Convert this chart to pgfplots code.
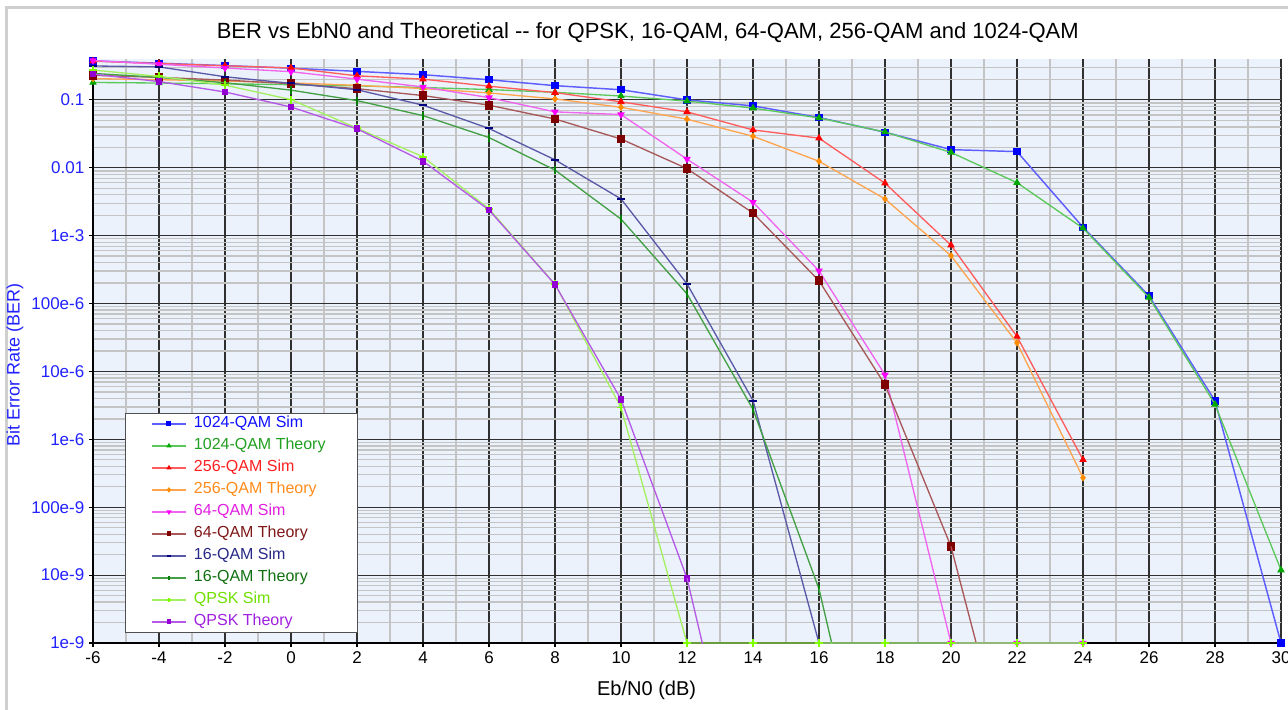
\documentclass[border=0pt]{standalone}
\usepackage{fontspec}
\setmainfont{Liberation Sans}
\usepackage{pgfplots}
\pgfplotsset{compat=1.18}
\definecolor{bgblue}{HTML}{ECF2FC}
\definecolor{majgrid}{HTML}{303030}
\definecolor{mingrid}{HTML}{C4C4C4}
\definecolor{tickblue}{HTML}{2222FF}
\definecolor{framegray}{HTML}{CFCFCF}
\definecolor{leggray}{HTML}{505050}
\definecolor{cAs}{HTML}{0000FF}\definecolor{cAsl}{HTML}{5E5EFF}\definecolor{cAtx}{HTML}{1010FF}
\definecolor{cAt}{HTML}{00A800}\definecolor{cAtl}{HTML}{5CC85C}\definecolor{cAttx}{HTML}{20A020}
\definecolor{cBs}{HTML}{FF0000}\definecolor{cBsl}{HTML}{FF5C5C}\definecolor{cBtx}{HTML}{FF2020}
\definecolor{cBt}{HTML}{FF8C00}\definecolor{cBtl}{HTML}{FFA54F}\definecolor{cBttx}{HTML}{FF8C1A}
\definecolor{cCs}{HTML}{FF00FF}\definecolor{cCsl}{HTML}{F064F0}\definecolor{cCtx}{HTML}{E020E0}
\definecolor{cCt}{HTML}{800000}\definecolor{cCtl}{HTML}{A85858}\definecolor{cCttx}{HTML}{801818}
\definecolor{cDs}{HTML}{000080}\definecolor{cDsl}{HTML}{5A5AA8}\definecolor{cDtx}{HTML}{282888}
\definecolor{cDt}{HTML}{008000}\definecolor{cDtl}{HTML}{44A044}\definecolor{cDttx}{HTML}{107010}
\definecolor{cEs}{HTML}{7FFF00}\definecolor{cEsl}{HTML}{A4F060}\definecolor{cEtx}{HTML}{70E000}
\definecolor{cEt}{HTML}{9400D3}\definecolor{cEtl}{HTML}{B45AE6}\definecolor{cEttx}{HTML}{A020E0}
\pgfplotsset{
  sAs/.style={color=cAsl, line width=1.1pt, mark=square*, mark size=2.2pt, mark options={solid, fill=cAs, draw=cAs}},
  sAt/.style={color=cAtl, line width=1pt, mark=triangle*, mark size=2.3pt, mark options={solid, fill=cAt, draw=cAt}},
  sBs/.style={color=cBsl, line width=1pt, mark=triangle*, mark size=2.3pt, mark options={solid, fill=cBs, draw=cBs}},
  sBt/.style={color=cBtl, line width=1pt, mark=diamond*, mark size=2pt, mark options={solid, fill=cBt, draw=cBt}},
  sCs/.style={color=cCsl, line width=1pt, mark=triangle*, mark size=2.3pt, mark options={solid, fill=cCs, draw=cCs, rotate=180}},
  sCt/.style={color=cCtl, line width=1pt, mark=square*, mark size=2.8pt, mark options={solid, fill=cCt, draw=cCt}},
  sDs/.style={color=cDsl, line width=1pt, mark=-, mark size=3pt, mark options={solid, draw=cDs, line width=1.5pt}},
  sDt/.style={color=cDtl, line width=1pt, mark=|, mark size=3pt, mark options={solid, draw=cDt, line width=1.5pt}},
  sEs/.style={color=cEsl, line width=1pt, mark=+, mark size=3pt, mark options={solid, draw=cEs, line width=1.3pt}},
  sEt/.style={color=cEtl, line width=1pt, mark=square*, mark size=2pt, mark options={solid, fill=cEt, draw=cEt}},
}
\begin{document}
\begin{tikzpicture}
\useasboundingbox (0pt,0pt) rectangle (966pt,532.5pt);
\fill[white] (0pt,0pt) rectangle (966pt,532.5pt);
\draw[line width=2.2pt, color=framegray] (5.2pt,-5pt) -- (5.2pt,527.2pt) -- (975pt,527.2pt);
\begin{axis}[
  at={(69.75pt,50.25pt)}, anchor=south west,
  width=891pt, height=438pt, scale only axis,
  ymode=log, xmin=-6, xmax=30, ymin=1e-9, ymax=0.4,
  clip mode=individual,
  axis background/.style={fill=bgblue},
  axis x line*=bottom, axis y line*=left,
  axis line style={black, line width=0.9pt},
  xtick={-6,-4,-2,0,2,4,6,8,10,12,14,16,18,20,22,24,26,28,30},
  xticklabels={-6,-4,-2,0,2,4,6,8,10,12,14,16,18,20,22,24,26,28,30},
  minor xtick={-5,-3,-1,1,3,5,7,9,11,13,15,17,19,21,23,25,27,29},
  ytick={1e-9,1e-8,1e-7,1e-6,1e-5,1e-4,1e-3,1e-2,1e-1},
  yticklabels={1e-9,10e-9,100e-9,1e-6,10e-6,100e-6,1e-3,0.01,0.1},
  minor ytick={2e-9,3e-9,4e-9,5e-9,6e-9,7e-9,8e-9,9e-9,
    2e-8,3e-8,4e-8,5e-8,6e-8,7e-8,8e-8,9e-8,
    2e-7,3e-7,4e-7,5e-7,6e-7,7e-7,8e-7,9e-7,
    2e-6,3e-6,4e-6,5e-6,6e-6,7e-6,8e-6,9e-6,
    2e-5,3e-5,4e-5,5e-5,6e-5,7e-5,8e-5,9e-5,
    2e-4,3e-4,4e-4,5e-4,6e-4,7e-4,8e-4,9e-4,
    2e-3,3e-3,4e-3,5e-3,6e-3,7e-3,8e-3,9e-3,
    2e-2,3e-2,4e-2,5e-2,6e-2,7e-2,8e-2,9e-2,
    0.2,0.3},
  grid=both,
  major grid style={majgrid, line width=0.9pt},
  minor grid style={mingrid, line width=1pt},
  tick align=outside, major tick length=3pt, minor tick length=0pt,
  tick style={black, line width=0.8pt},
  xticklabel style={font=\fontsize{12.75}{14}\selectfont, text=black},
  yticklabel style={font=\fontsize{12.75}{14}\selectfont, text=tickblue},
  title={BER vs EbN0 and Theoretical -{}- for QPSK, 16-QAM, 64-QAM, 256-QAM and 1024-QAM},
  title style={at={(axis description cs:0.467,1)}, anchor=base, yshift=9.2pt, font=\fontsize{16.5}{19}\selectfont},
  xlabel={Eb/N0 (dB)},
  xlabel style={at={(axis description cs:0.466,0)}, anchor=base, yshift=-39pt, font=\fontsize{15}{17}\selectfont},
  ylabel={Bit Error Rate (BER)},
  ylabel style={at={(axis description cs:-0.0657,0.476)}, anchor=center, font=\fontsize{13.5}{15}\selectfont, text=tickblue},
  legend cell align=left,
  legend style={at={(axis description cs:0.0269,0.0171)}, anchor=south west,
    draw=leggray, line width=0.9pt, fill=white, font=\fontsize{12}{14}\selectfont,
    inner xsep=19pt, inner ysep=1.9pt, row sep=4.5pt,
    nodes={inner ysep=0pt, inner xsep=5.2pt, text height=9pt, text depth=3pt}},
  legend image code/.code={\draw[mark repeat=2,mark phase=2] plot coordinates {(0pt,0pt)(13pt,0pt)(26pt,0pt)};},
  legend image post style={mark size=1.3pt},
]
\addplot[sAs] coordinates {(-6,0.375)(-4,0.347)(-2,0.32)(0,0.293)(2,0.263)(4,0.235)(6,0.198)(8,0.162)(10,0.141)(12,0.100)(14,0.0816)(16,0.055)(18,0.0334)(20,0.0185)(22,0.0173)(24,1.33e-3)(26,1.30e-4)(28,3.69e-6)(30,1e-9)};
\addlegendentry[text=cAtx]{1024-QAM Sim}
\addplot[sAt] coordinates {(-6,0.1805)(-4,0.1771)(-2,0.1728)(0,0.1674)(2,0.1607)(4,0.1523)(6,0.1419)(8,0.1292)(10,0.1140)(12,0.0960)(14,0.0757)(16,0.0542)(18,0.03367)(20,0.01682)(22,0.00603)(24,1.288e-3)(26,1.229e-4)(28,3.28e-6)(30,1.185e-8)};
\addlegendentry[text=cAttx]{1024-QAM Theory}
\addplot[sBs] coordinates {(-6,0.372)(-4,0.343)(-2,0.318)(0,0.295)(2,0.226)(4,0.202)(6,0.159)(8,0.128)(10,0.0935)(12,0.0666)(14,0.0361)(16,0.0273)(18,0.00593)(20,7.24e-4)(22,3.27e-5)(24,5.0e-7)};
\addlegendentry[text=cBtx]{256-QAM Sim}
\addplot[sBt] coordinates {(-6,0.2057)(-4,0.1984)(-2,0.1892)(0,0.1779)(2,0.1639)(4,0.1469)(6,0.1267)(8,0.1033)(10,0.0778)(12,0.0520)(14,0.0291)(16,0.01246)(18,0.003472)(20,5.07e-4)(22,2.63e-5)(24,2.72e-7)};
\addlegendentry[text=cBttx]{256-QAM Theory}
\addplot[sCs] coordinates {(-6,0.38)(-4,0.335)(-2,0.295)(0,0.26)(2,0.202)(4,0.155)(6,0.108)(8,0.0666)(10,0.0608)(12,0.0134)(14,0.00311)(16,3.03e-4)(18,8.9e-6)(20,1e-9)(22,1e-9)(24,1e-9)};
\addlegendentry[text=cCtx]{64-QAM Sim}
\addplot[sCt] coordinates {(-6,0.2301)(-4,0.2146)(-2,0.1957)(0,0.1730)(2,0.1461)(4,0.1158)(6,0.0835)(8,0.0523)(10,0.02653)(12,0.00972)(14,0.002153)(16,2.17e-4)(18,6.36e-6)(20,2.634e-8)};
\addlegendentry[text=cCttx]{64-QAM Theory}
\addplot[sCt, no marks, forget plot] coordinates {(20,2.634e-8)(22,4.97e-12)};
\addplot[sDs] coordinates {(-6,0.316)(-4,0.306)(-2,0.219)(0,0.175)(2,0.141)(4,0.0836)(6,0.0379)(8,0.0131)(10,0.00348)(12,1.95e-4)(14,3.73e-6)(16,1e-9)(18,1e-9)(20,1e-9)(22,1e-9)(24,1e-9)};
\addlegendentry[text=cDtx]{16-QAM Sim}
\addplot[sDt] coordinates {(-6,0.2453)(-4,0.2147)(-2,0.1790)(0,0.1392)(2,0.0976)(4,0.0586)(6,0.02788)(8,0.00925)(10,0.001754)(12,1.387e-4)(14,2.77e-6)(16,6.25e-9)};
\addlegendentry[text=cDttx]{16-QAM Theory}
\addplot[sDt, no marks, forget plot] coordinates {(16,6.25e-9)(18,4.5e-13)};
\addplot[sEs] coordinates {(-6,0.275)(-4,0.222)(-2,0.165)(0,0.101)(2,0.0383)(4,0.0145)(6,0.00248)(8,1.93e-4)(10,2.95e-6)(12,1e-9)(14,1e-9)(16,1e-9)(18,1e-9)(20,1e-9)(22,1e-9)(24,1e-9)};
\addlegendentry[text=cEtx]{QPSK Sim}
\addplot[sEt] coordinates {(-6,0.2393)(-4,0.1861)(-2,0.1307)(0,0.0786)(2,0.0375)(4,0.0125)(6,0.002388)(8,1.909e-4)(10,3.872e-6)(12,9.006e-9)};
\addlegendentry[text=cEttx]{QPSK Theory}
\addplot[sEt, no marks, forget plot] coordinates {(12,9.006e-9)(14,6.8e-13)};
\end{axis}
\end{tikzpicture}
\end{document}
